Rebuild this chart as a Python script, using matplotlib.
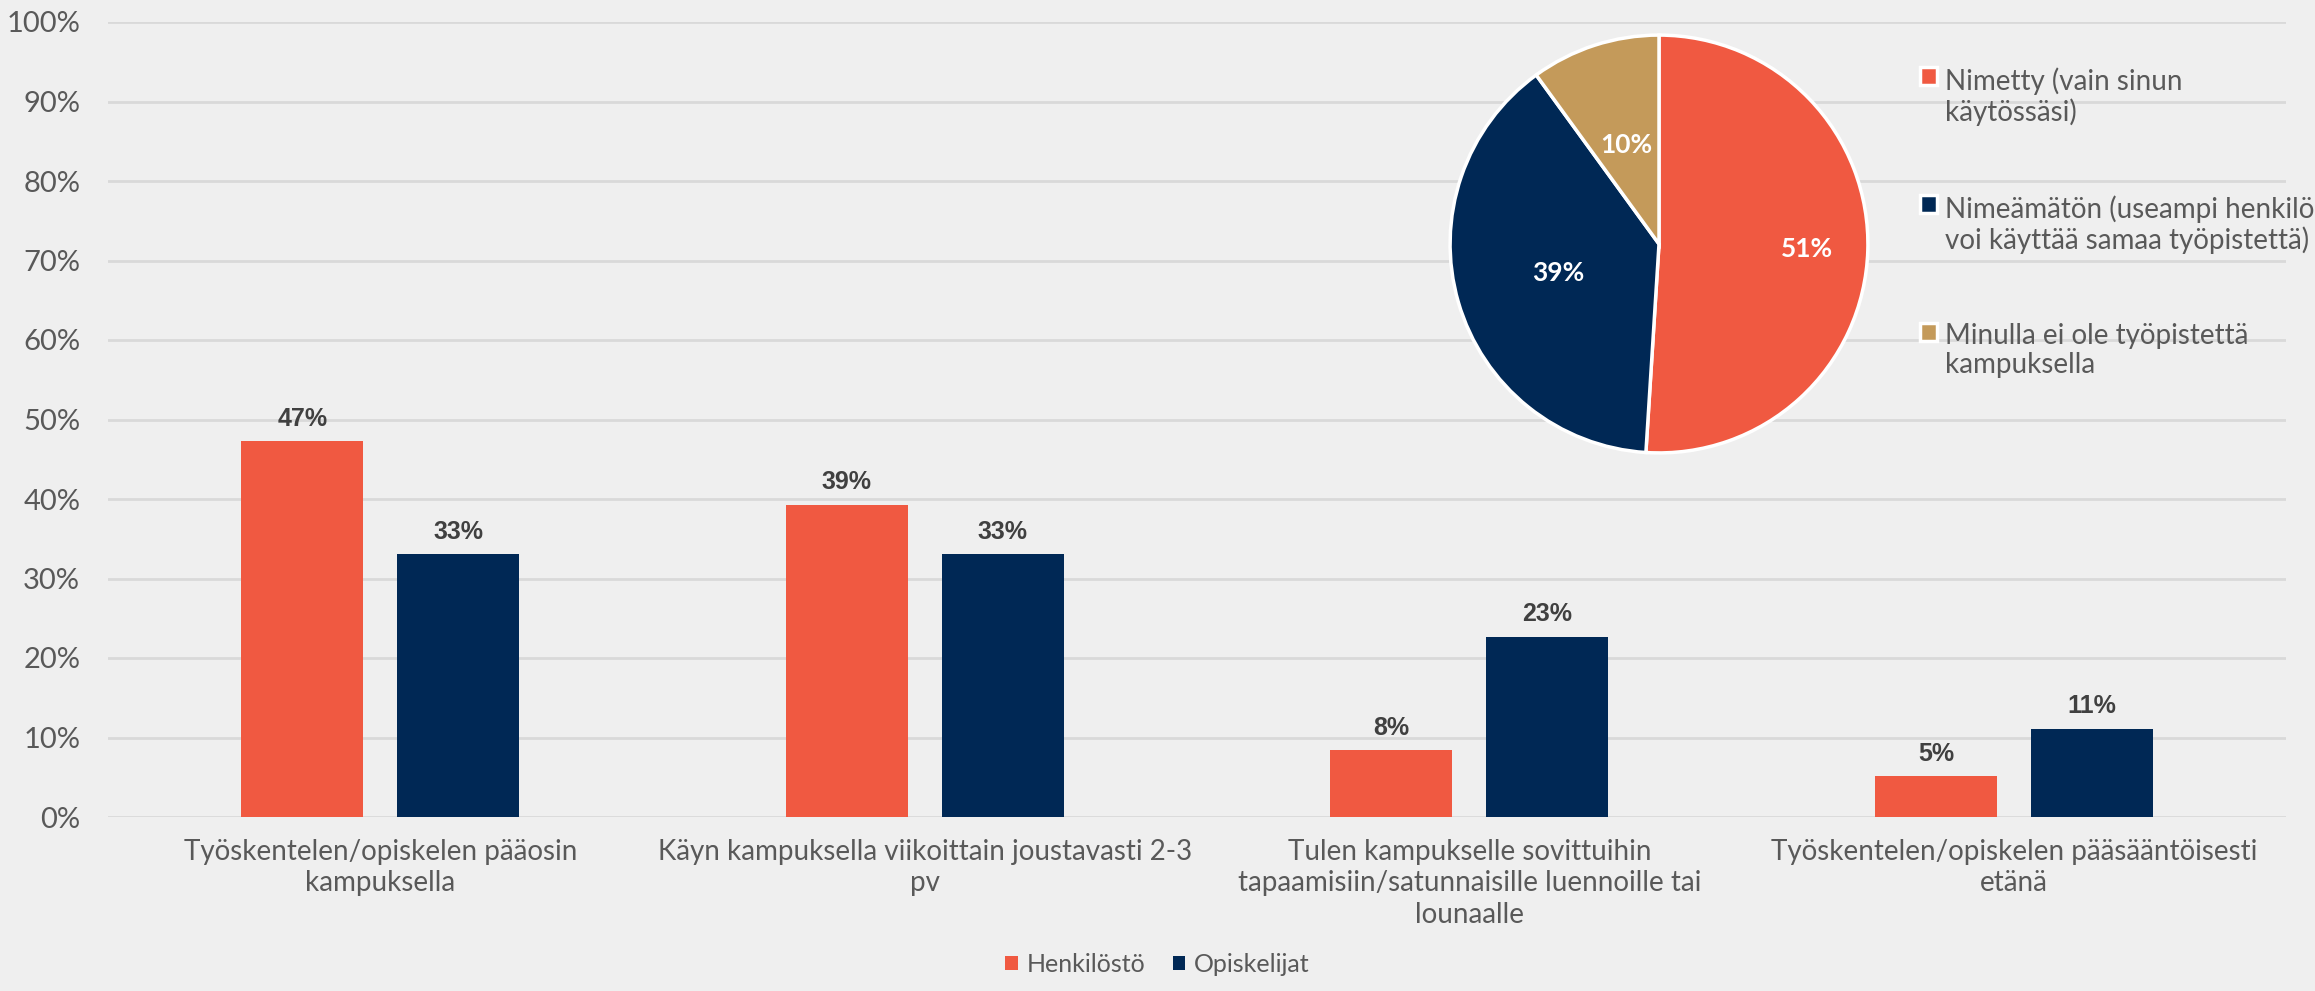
import numpy as np
import matplotlib
matplotlib.use("Agg")
import matplotlib.pyplot as plt

plt.rcParams['font.family'] = ['Lato', 'DejaVu Sans']

# --- data ---
categories = [
    "Työskentelen/opiskelen pääosin\nkampuksella",
    "Käyn kampuksella viikoittain joustavasti 2-3\npv",
    "Tulen kampukselle sovittuihin\ntapaamisiin/satunnaisille luennoille tai\nlounaalle",
    "Työskentelen/opiskelen pääsääntöisesti\netänä",
]
henkilosto = [47.3, 39.3, 8.4, 5.1]
opiskelijat = [33.1, 33.1, 22.7, 11.1]
series_names = ["Henkilöstö", "Opiskelijat"]

pie_labels = [
    "Nimetty (vain sinun\nkäytössäsi)",
    "Nimeämätön (useampi henkilö\nvoi käyttää samaa työpistettä)",
    "Minulla ei ole työpistettä\nkampuksella",
]
pie_values = [51, 39, 10]

# --- style ---
BG = "#efefef"
ORANGE = "#f05941"
NAVY = "#002855"
TAN = "#c49a5a"
GRID = "#d9d9d9"
TXT = "#595959"
LBL = "#404040"

W, H = 2315, 991
fig = plt.figure(figsize=(W / 100, H / 100), dpi=100, facecolor=BG)

# bar chart axes
ax = fig.add_axes([108 / W, 1 - 817 / H, (2286 - 108) / W, (817 - 22) / H])
ax.set_facecolor(BG)
x = np.arange(len(categories))
bw = 0.224
off = 0.143
b1 = ax.bar(x - off, henkilosto, bw, color=ORANGE, label=series_names[0], zorder=3)
b2 = ax.bar(x + off, opiskelijat, bw, color=NAVY, label=series_names[1], zorder=3)
for bars in (b1, b2):
    for r in bars:
        ax.annotate(f"{r.get_height():.0f}%", (r.get_x() + r.get_width() / 2, r.get_height()),
                    xytext=(0, 11), textcoords="offset points", ha="center", va="baseline",
                    fontsize=18, fontweight="bold", color=LBL, zorder=4,
                    family=["Liberation Sans", "DejaVu Sans"])

ax.set_xlim(-0.5, len(categories) - 0.5)
ax.set_ylim(0, 100)
ax.set_yticks(np.arange(0, 101, 10))
ax.set_yticklabels([f"{v}%" for v in range(0, 101, 10)])
ax.set_xticks(x)
ax.set_xticklabels(categories, linespacing=1.25)
ax.tick_params(axis="y", length=0, pad=20, labelsize=21, labelcolor=TXT)
ax.tick_params(axis="x", length=0, pad=16, labelsize=20, labelcolor=TXT)
ax.grid(axis="y", color=GRID, linewidth=2, zorder=0)
for s in ax.spines.values():
    s.set_visible(False)

fig.legend(loc="lower center", bbox_to_anchor=(0.5, 0.0), ncol=2, frameon=False,
           fontsize=18, labelcolor=TXT, handlelength=0.5, handleheight=0.5,
           handletextpad=0.35, columnspacing=1.1, borderaxespad=0.2)

# pie axes
pax = fig.add_axes([1448 / W, 1 - 455 / H, 422 / W, 422 / H])
pax.set_facecolor("none")
wedges, _, autotexts = pax.pie(pie_values, colors=[ORANGE, NAVY, TAN], startangle=90,
                               counterclock=False, autopct="%1.0f%%", pctdistance=0.5,
                               wedgeprops=dict(edgecolor="white", linewidth=2.5),
                               textprops=dict(color="white", fontsize=19, fontweight="bold"))
# the big slice's label sits further out
w0 = wedges[0]
ang = np.deg2rad((w0.theta1 + w0.theta2) / 2)
autotexts[0].set_position((0.71 * np.cos(ang), 0.71 * np.sin(ang)))
pax.set_xlim(-1.01, 1.01)
pax.set_ylim(-1.01, 1.01)
pax.set_aspect("equal")

leg = fig.legend(wedges, pie_labels, loc="upper left", bbox_to_anchor=(1920 / W, 1 - 67 / H),
                 frameon=False, fontsize=20, labelcolor=TXT, handlelength=0.6, handleheight=0.6,
                 handletextpad=0.3, labelspacing=2.5, borderaxespad=0, borderpad=0)
for t in leg.get_texts():
    t.set_linespacing(1.15)
for hp in leg._legend_handle_box.get_children():
    for row in hp.get_children():
        row.align = "top"

fig.savefig("out.png", dpi=100, facecolor=BG)
